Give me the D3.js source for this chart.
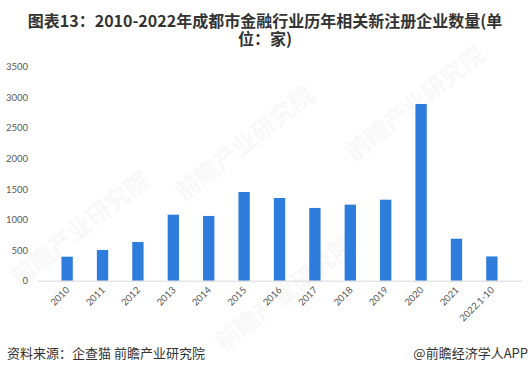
<!DOCTYPE html>
<html>
<head>
<meta charset="utf-8">
<script src="https://cdn.jsdelivr.net/npm/d3@7"></script>
<style>
  body { margin: 0; background: #fff; }
  svg { display: block; }
</style>
</head>
<body>
<svg id="svg" width="530" height="374"></svg>
<script>
const years = ["2010","2011","2012","2013","2014","2015","2016","2017","2018","2019","2020","2021","2022.1-10"];
const counts = [393, 502, 633, 1080, 1059, 1451, 1353, 1190, 1244, 1325, 2890, 687, 397];
const yTicks = [0, 500, 1000, 1500, 2000, 2500, 3000, 3500];

const svg = d3.select("#svg");
const cjk = "'Noto Sans CJK SC', 'Noto Sans', sans-serif";
const latin = "Lato, 'Liberation Sans', sans-serif";

// faint watermarks
const wm = [[85, 235], [250, 150], [420, 110], [290, 300]];
svg.append("g").selectAll("text").data(wm).enter().append("text")
  .attr("transform", d => `translate(${d[0]},${d[1]}) rotate(-38)`)
  .attr("text-anchor", "middle")
  .attr("font-family", cjk).attr("font-size", 24).attr("font-weight", "bold")
  .attr("fill", "#000").attr("opacity", 0.022)
  .text("前瞻产业研究院");

// title, wrapped in two lines
svg.append("text")
  .attr("x", 265).attr("y", 27).attr("text-anchor", "middle")
  .attr("font-family", cjk).attr("font-weight", "bold").attr("font-size", 16)
  .attr("fill", "#333")
  .text("图表13：2010-2022年成都市金融行业历年相关新注册企业数量(单");
svg.append("text")
  .attr("x", 265).attr("y", 45).attr("text-anchor", "middle")
  .attr("font-family", cjk).attr("font-weight", "bold").attr("font-size", 16)
  .attr("fill", "#333")
  .text("位：家)");

const x = d3.scaleBand().domain(years).range([37.4, 521.6]).padding(0.68);
const y = d3.scaleLinear().domain([0, 3500]).range([280.7, 66.7]);

// y axis labels
const yAxis = svg.append("g").attr("transform", "translate(28,0)")
  .call(d3.axisLeft(y).tickValues(yTicks).tickFormat(d3.format("d")).tickSize(0).tickPadding(0));
yAxis.select(".domain").remove();
yAxis.selectAll("text").attr("font-family", latin).attr("font-size", 9.5).attr("fill", "#595959");

// bars
svg.append("g").selectAll("rect").data(counts).enter().append("rect")
  .attr("x", (d, i) => x(years[i]))
  .attr("width", x.bandwidth())
  .attr("y", d => y(d))
  .attr("height", d => y(0) - y(d))
  .attr("fill", "#2e7cdc");

// x axis
const xAxis = svg.append("g").attr("transform", `translate(0,${y(0)})`)
  .call(d3.axisBottom(x).tickSize(0).tickPadding(0));
xAxis.select(".domain").attr("stroke", "#d9d9d9");
xAxis.selectAll("text")
  .attr("font-family", latin).attr("font-size", 9.5).attr("fill", "#595959")
  .attr("text-anchor", "end")
  .attr("dy", null)
  .attr("transform", "translate(3,10) rotate(-45)");

// footer
svg.append("text").attr("x", 7).attr("y", 358)
  .attr("font-family", cjk).attr("font-size", 13).attr("fill", "#333")
  .text("资料来源：企查猫 前瞻产业研究院");
svg.append("text").attr("x", 528).attr("y", 358).attr("text-anchor", "end")
  .attr("font-family", cjk).attr("font-size", 13).attr("fill", "#333")
  .text("@前瞻经济学人APP");
</script>
</body>
</html>
